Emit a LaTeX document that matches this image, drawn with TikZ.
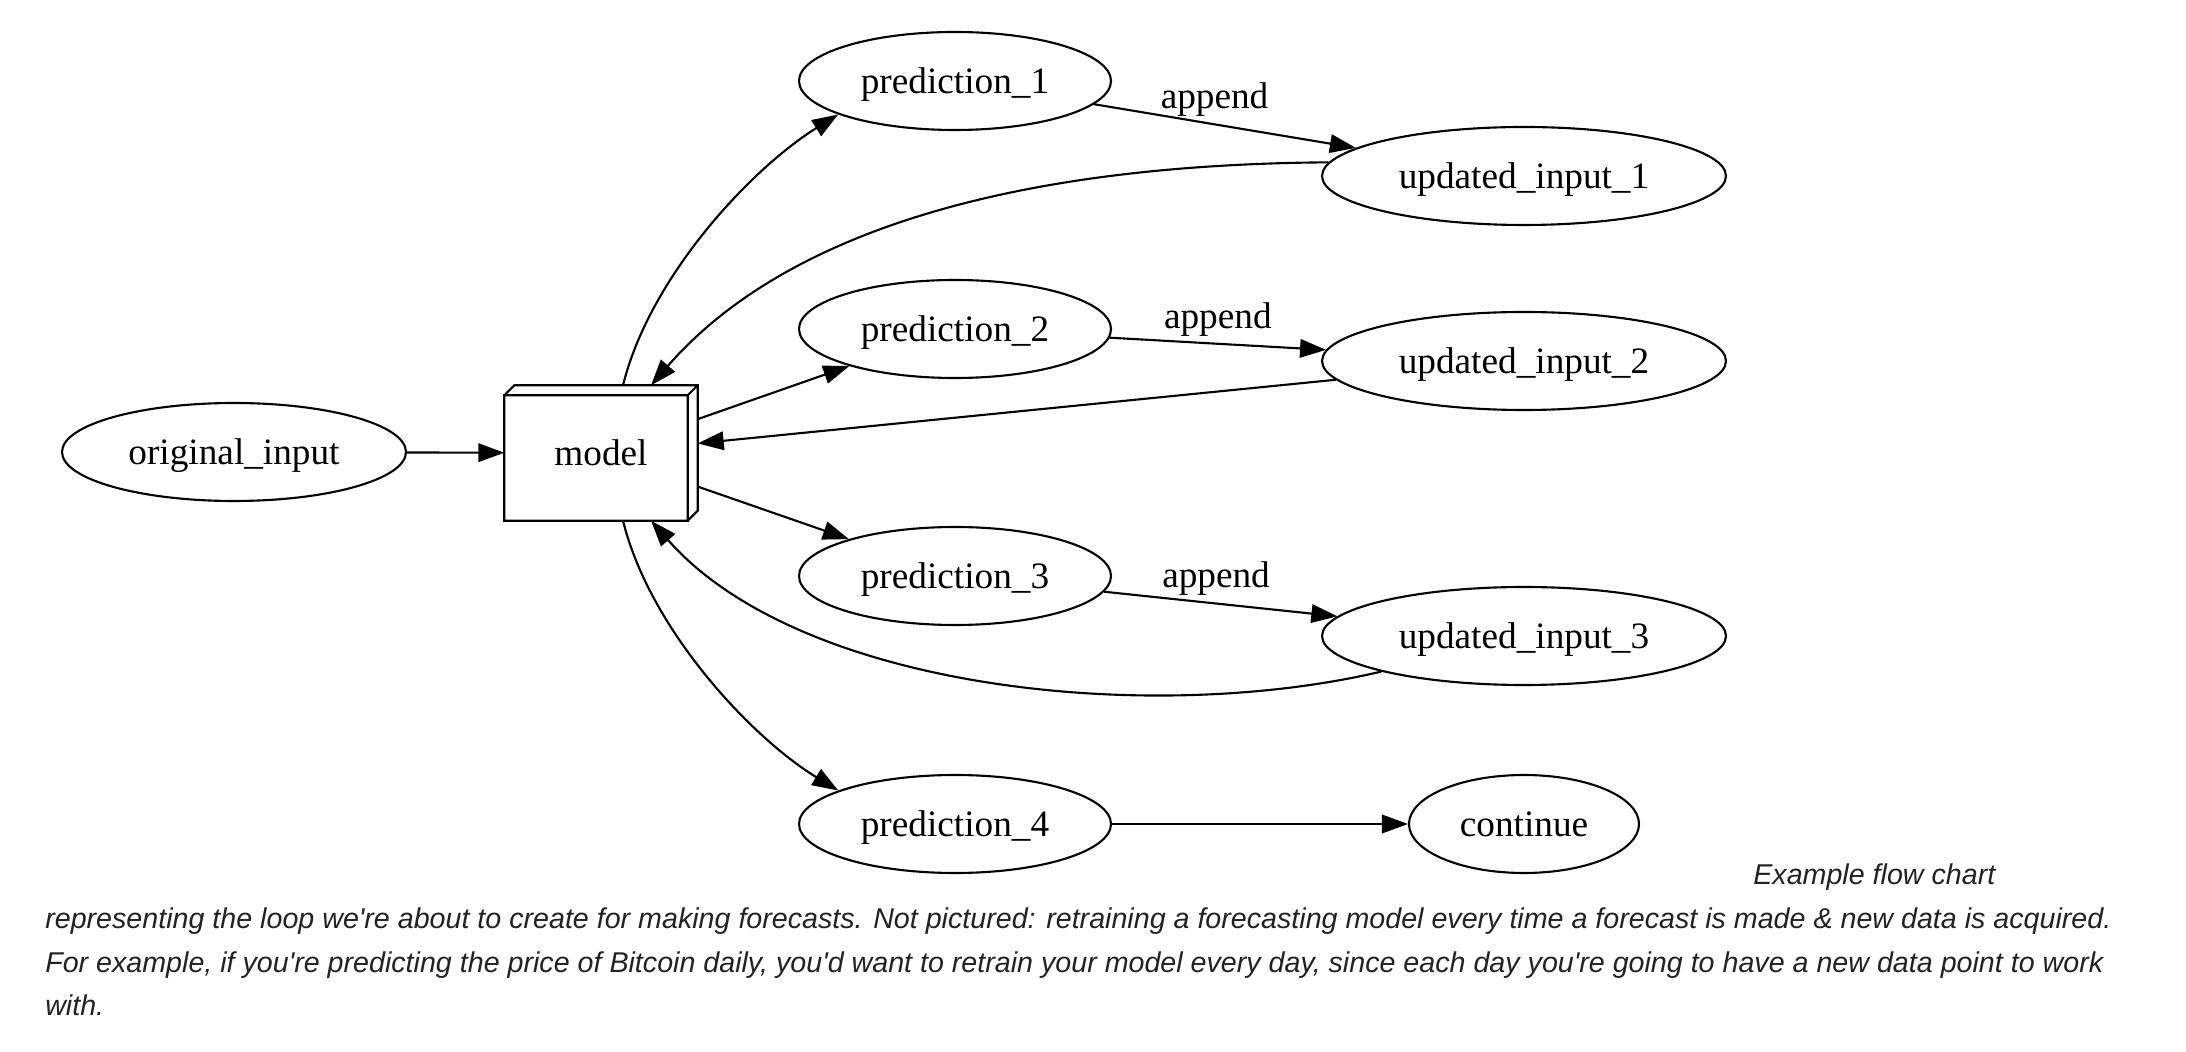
\documentclass[tikz,border=0pt]{standalone}
\usepackage{fontspec}
\setmainfont{Liberation Serif}
\newfontfamily\capfont{Liberation Sans}
\usepackage{tikz}
\usetikzlibrary{arrows.meta,shapes.geometric}
\definecolor{captxt}{HTML}{222222}

\begin{document}
\begin{tikzpicture}[x=1mm,y=-1mm,
  ov/.style={draw,ellipse,line width=0.6pt,minimum width=31.2mm,minimum height=9.8mm,inner sep=0pt,text depth=0pt,font=\fontsize{10.6}{12}\selectfont},
  lb/.style={font=\fontsize{10.6}{12}\selectfont},
  cp/.style={font=\capfont\itshape\fontsize{8.15}{12.5}\selectfont,text=captxt,inner sep=0pt},
  ar/.style={-{Triangle[length=2.6mm,width=1.85mm]},line width=0.6pt}]
\useasboundingbox (0,0) rectangle (218.6,105.2);
\node[ov,minimum width=34.4mm] (oi) at (23.4,45.2) {original\_input};
\node[lb,minimum width=19.2mm,minimum height=13.4mm,inner sep=0pt,text depth=0pt] (m) at (60.1,45.3) {model};
\draw[line width=0.6pt] (m.south west) rectangle ([xshift=-1mm,yshift=-1mm]m.north east)
  ([yshift=-1mm]m.north west) -- ([xshift=1mm]m.north west) -- (m.north east) -- ([yshift=1mm]m.south east) -- ([xshift=-1mm]m.south east)
  ([xshift=-1mm,yshift=-1mm]m.north east) -- (m.north east);
\node[ov] (p1) at (95.5,8.1)  {prediction\_1};
\node[ov] (p2) at (95.5,32.9) {prediction\_2};
\node[ov] (p3) at (95.5,57.6) {prediction\_3};
\node[ov] (p4) at (95.5,82.4) {prediction\_4};
\node[ov,minimum width=40.4mm] (u1) at (152.4,17.6) {updated\_input\_1};
\node[ov,minimum width=40.4mm] (u2) at (152.4,36.1) {updated\_input\_2};
\node[ov,minimum width=40.4mm] (u3) at (152.4,63.6) {updated\_input\_3};
\node[ov,minimum width=23mm]   (c)  at (152.4,82.4) {continue};
\draw[ar] (oi) -- (m);
\draw[ar] ([xshift=2.2mm]m.north) .. controls (65,27.6) and (75.2,16.8) .. (p1.196);
\draw[ar] (u1.176) .. controls (95,16.5) and (76,26) .. ([xshift=5mm]m.north);
\draw[ar] (p1) -- node[lb,above=-0.5mm,pos=0.46]{append} (u1);
\draw[ar] (m) -- (p2);
\draw[ar] (p2) -- node[lb,above=-0.5mm]{append} (u2);
\draw[ar] (u2) -- (m);
\draw[ar] (m) -- (p3);
\draw[ar] (p3) -- node[lb,above=-0.5mm,pos=0.48]{append} (u3);
\draw[ar] (u3.194) .. controls (115,72.6) and (80,69) .. ([xshift=5mm]m.south);
\draw[ar] ([xshift=2.2mm]m.south) .. controls (65,63) and (75.2,73.8) .. (p4.164);
\draw[ar] (p4) -- (c);
% caption
\node[cp,anchor=base east] (cap) at (199.6,88.4) {Example flow chart};
\node[cp,anchor=base west] (cl1) at (4.46,92.8) {representing the loop we're about to create for making forecasts. Not pictured: retraining a forecasting model every time a forecast is made \& new data is acquired.};
\node[cp,anchor=base west] (cl2) at (4.46,97.2) {For example, if you're predicting the price of Bitcoin daily, you'd want to retrain your model every day, since each day you're going to have a new data point to work};
\node[cp,anchor=base west] (cl3) at (4.46,101.5) {with.};
\end{tikzpicture}
\end{document}
